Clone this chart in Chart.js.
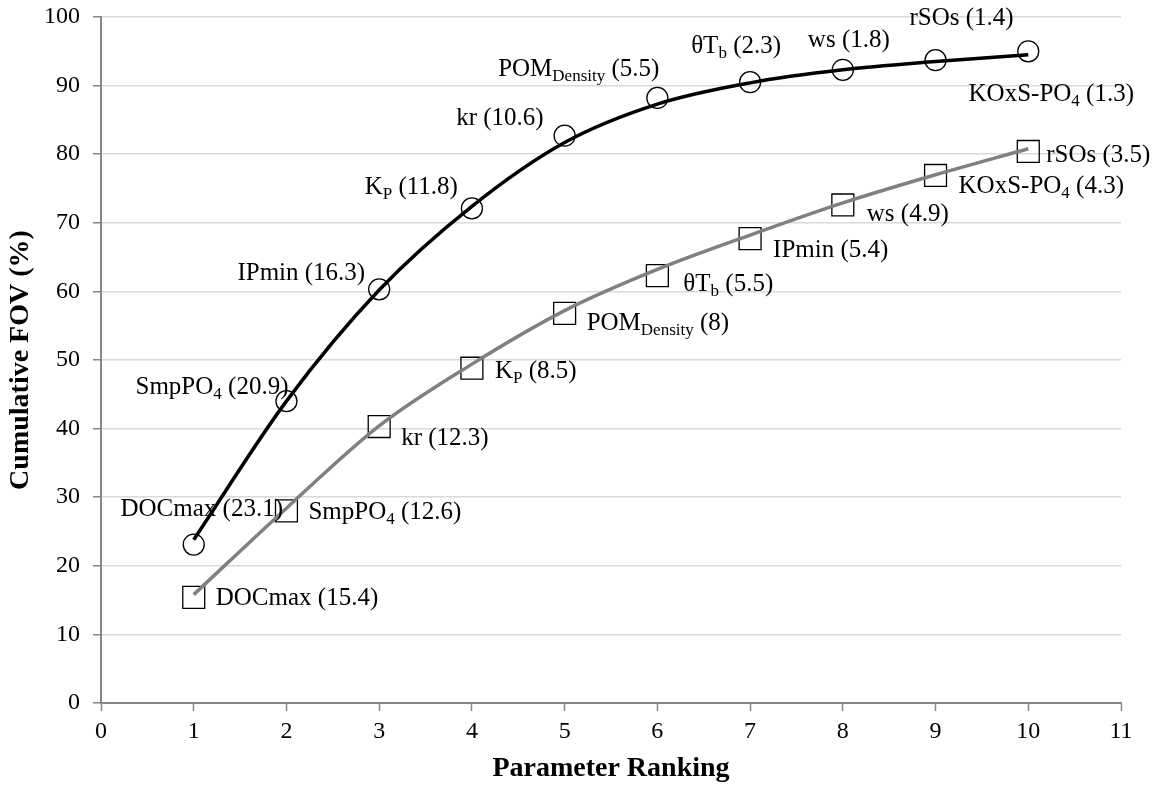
<!DOCTYPE html>
<html lang="en">
<head>
    <meta charset="UTF-8">
    <title>Cumulative FOV</title>
    <script src="https://cdn.jsdelivr.net/npm/chart.js"></script>
    <style>
        body{
            margin: 0;
            background: #ffffff;
        }
        #wrap{
            width: 1164px;
            height: 786px;
        }
    </style>
</head>
<body>
    <div id="wrap">
        <canvas id="grafik-fov"></canvas>
    </div>

    <script>
        // ranking on the x axis
        const ranking = [1, 2, 3, 4, 5, 6, 7, 8, 9, 10]

        // circles (black curve)
        const circleNames = ['DOCmax', 'SmpPO_{4}', 'IPmin', 'K_{P}', 'kr', 'POM_{Density}', 'θT_{b}', 'ws', 'rSOs', 'KOxS-PO_{4}']
        const circleShare = [23.1, 20.9, 16.3, 11.8, 10.6, 5.5, 2.3, 1.8, 1.4, 1.3]
        const circleCum = [23.1, 44.0, 60.3, 72.1, 82.7, 88.2, 90.5, 92.3, 93.7, 95.0]
        // fitted trend line
        const circleTrend = [23.8, 44.0, 60.2, 72.4, 81.7, 87.3, 90.4, 92.3, 93.5, 94.5]

        // squares (gray curve)
        const squareNames = ['DOCmax', 'SmpPO_{4}', 'kr', 'K_{P}', 'POM_{Density}', 'θT_{b}', 'IPmin', 'ws', 'KOxS-PO_{4}', 'rSOs']
        const squareShare = [15.4, 12.6, 12.3, 8.5, 8, 5.5, 5.4, 4.9, 4.3, 3.5]
        const squareCum = [15.4, 28.0, 40.3, 48.8, 56.8, 62.3, 67.7, 72.6, 76.9, 80.4]
        const squareTrend = [15.8, 28.4, 40.4, 49.4, 57.2, 63.2, 68.2, 72.9, 77.0, 80.8]

        const xTicks = [0, 1, 2, 3, 4, 5, 6, 7, 8, 9, 10, 11]
        const yTicks = [0, 10, 20, 30, 40, 50, 60, 70, 80, 90, 100]

        // where each label sits next to its marker: [anchor, dx, dy]
        const circlePlace = [
            ['center', 8, -37], ['right', 2, -15], ['right', -14, -17], ['right', -14, -22], ['right', -21, -19],
            ['right', 2, -30], ['center', -14, -37], ['center', 6, -31], ['center', 26, -43], ['center', 23, 42]
        ]
        const squarePlace = [
            ['left', 22, 0], ['left', 22, 0], ['left', 22, 10], ['left', 23, 2], ['left', 22, 9],
            ['left', 26, 7], ['left', 23, 10], ['left', 24, 8], ['left', 23, 10], ['left', 18, 3]
        ]

        const FONT = '"Liberation Serif", "Times New Roman", serif'
        const MAIN = 25
        const SUB = 17

        function pts(ys){
            return ranking.map((x, i) => ({x: x, y: ys[i]}))
        }

        function splitParts(str){
            // "K_{P} (11.8)" -> [{t:'K',sub:false},{t:'P',sub:true},{t:' (11.8)',sub:false}]
            var parts = []
            var re = /_\{([^}]*)\}/g
            var last = 0, m
            while((m = re.exec(str)) !== null){
                if(m.index > last) parts.push({t: str.slice(last, m.index), sub: false})
                parts.push({t: m[1], sub: true})
                last = re.lastIndex
            }
            if(last < str.length) parts.push({t: str.slice(last), sub: false})
            return parts
        }

        function drawRich(ctx, str, x, y, anchor){
            var parts = splitParts(str)
            var w = 0
            parts.forEach(p => {
                ctx.font = (p.sub ? SUB : MAIN) + 'px ' + FONT
                p.w = ctx.measureText(p.t).width
                w += p.w
            })
            var sx = x
            if(anchor === 'center') sx = x - w / 2
            if(anchor === 'right') sx = x - w
            ctx.textBaseline = 'alphabetic'
            ctx.textAlign = 'left'
            ctx.fillStyle = '#000000'
            var base = y + 8
            parts.forEach(p => {
                ctx.font = (p.sub ? SUB : MAIN) + 'px ' + FONT
                ctx.fillText(p.t, sx, p.sub ? base + 5 : base)
                sx += p.w
            })
        }

        const pointLabels = {
            id: 'pointLabels',
            afterDatasetsDraw(chart){
                const ctx = chart.ctx
                const xs = chart.scales.x
                const ys = chart.scales.y
                ctx.save()
                ranking.forEach((r, i) => {
                    var px = xs.getPixelForValue(r)
                    var pc = circlePlace[i]
                    drawRich(ctx, circleNames[i] + ' (' + circleShare[i] + ')', px + pc[1], ys.getPixelForValue(circleCum[i]) + pc[2], pc[0])
                    var ps = squarePlace[i]
                    drawRich(ctx, squareNames[i] + ' (' + squareShare[i] + ')', px + ps[1], ys.getPixelForValue(squareCum[i]) + ps[2], ps[0])
                })
                ctx.restore()
            }
        }

        new Chart(document.getElementById('grafik-fov'), {
            type: 'scatter',
            data: {
                datasets: [
                    {
                        data: pts(circleTrend),
                        showLine: true,
                        borderColor: '#000000',
                        borderWidth: 3.5,
                        cubicInterpolationMode: 'monotone',
                        pointRadius: 0
                    },
                    {
                        data: pts(squareTrend),
                        showLine: true,
                        borderColor: '#808080',
                        borderWidth: 3.5,
                        cubicInterpolationMode: 'monotone',
                        pointRadius: 0
                    },
                    {
                        data: pts(circleCum),
                        showLine: false,
                        pointStyle: 'circle',
                        pointRadius: 10.5,
                        pointBorderColor: '#000000',
                        pointBorderWidth: 1.3,
                        pointBackgroundColor: 'rgba(0,0,0,0)'
                    },
                    {
                        data: pts(squareCum),
                        showLine: false,
                        pointStyle: 'rect',
                        pointRadius: 15.5,
                        pointBorderColor: '#000000',
                        pointBorderWidth: 1.3,
                        pointBackgroundColor: 'rgba(0,0,0,0)'
                    }
                ]
            },
            options: {
                responsive: true,
                maintainAspectRatio: false,
                animation: false,
                layout: {
                    padding: {top: 17, right: 43, left: 0, bottom: 0}
                },
                plugins: {
                    legend: {display: false},
                    tooltip: {enabled: false}
                },
                scales: {
                    x: {
                        type: 'linear',
                        min: 0,
                        max: 11,
                        afterFit: function(scale){
                            scale.height = 83
                            scale.paddingLeft = 0
                            scale.paddingRight = 0
                        },
                        afterBuildTicks: function(scale){ scale.ticks = xTicks.map(v => ({value: v})) },
                        grid: {drawOnChartArea: false, drawTicks: true, tickLength: 8, tickColor: '#868686', tickWidth: 1.5},
                        border: {color: '#868686', width: 2},
                        ticks: {color: '#000000', padding: 6, maxRotation: 0, font: {family: FONT, size: 24}},
                        title: {display: true, text: 'Parameter Ranking', color: '#000000', padding: {top: 0, bottom: 0}, font: {family: FONT, size: 28, weight: 'bold'}}
                    },
                    y: {
                        min: 0,
                        max: 100,
                        afterFit: function(scale){
                            scale.width = 101
                            scale.paddingTop = 0
                            scale.paddingBottom = 0
                        },
                        afterBuildTicks: function(scale){ scale.ticks = yTicks.map(v => ({value: v})) },
                        grid: {color: '#d9d9d9', lineWidth: 1.5, drawTicks: true, tickLength: 8, tickColor: '#868686', tickWidth: 1.5},
                        border: {color: '#868686', width: 2},
                        ticks: {color: '#000000', padding: 13, font: {family: FONT, size: 24}},
                        title: {display: true, text: 'Cumulative FOV (%)', color: '#000000', padding: {top: 4, bottom: 0}, font: {family: FONT, size: 28, weight: 'bold'}}
                    }
                }
            },
            plugins: [pointLabels]
        });
    </script>
</body>
</html>
